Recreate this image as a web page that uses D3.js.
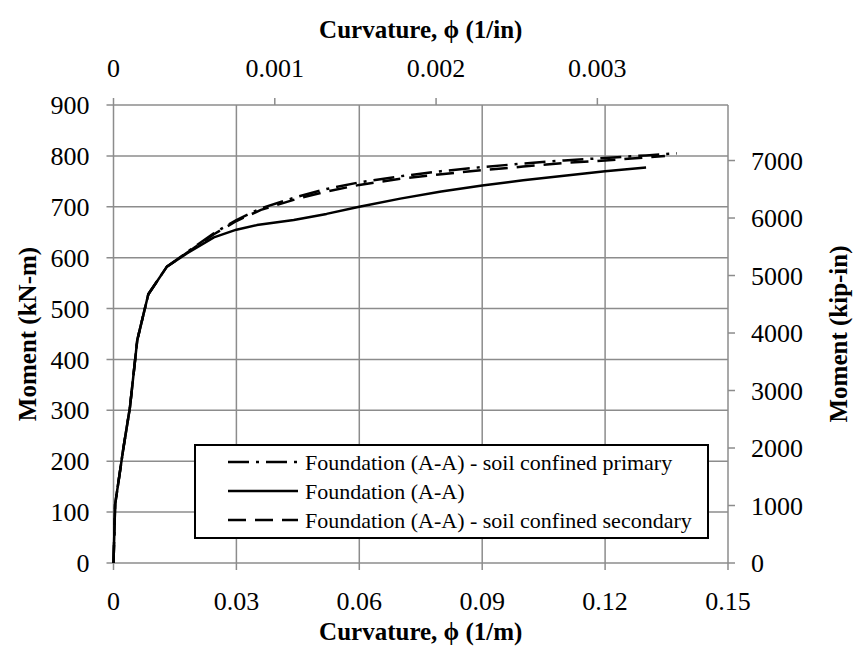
<!DOCTYPE html>
<html><head><meta charset="utf-8">
<script src="https://cdn.jsdelivr.net/npm/d3@7"></script>
<style>body{margin:0;background:#fff}</style>
</head><body><svg id="c" width="855" height="647"></svg>
<script>
// ---- data ----
const xTicksBottom = [0, 0.03, 0.06, 0.09, 0.12, 0.15];
const xTicksTop = [0, 0.001, 0.002, 0.003];
const yTicksLeft = [0, 100, 200, 300, 400, 500, 600, 700, 800, 900];
const yTicksRight = [0, 1000, 2000, 3000, 4000, 5000, 6000, 7000];

const solidX = [0, 0.0004, 0.0024, 0.0040, 0.0058, 0.0085, 0.0130, 0.0180, 0.0245, 0.0300, 0.0350, 0.0440, 0.0520, 0.0600, 0.0700, 0.0800, 0.0900, 0.1000, 0.1100, 0.1200, 0.1300];
const solidY = [0, 115, 225, 305, 438, 528, 582, 609, 640, 655, 664, 674, 686, 700, 716, 730, 742, 752, 761, 770, 777];

const primaryX = [0, 0.0004, 0.0024, 0.0040, 0.0058, 0.0085, 0.0130, 0.0180, 0.0245, 0.0300, 0.0360, 0.0450, 0.0520, 0.0600, 0.0700, 0.0800, 0.0900, 0.1000, 0.1100, 0.1200, 0.1300, 0.1375];
const primaryY = [0, 115, 225, 305, 438, 528, 582, 611, 648, 674, 697, 720, 735, 748, 760, 770, 778, 785, 791, 796, 801, 805];

const secondaryX = [0, 0.0004, 0.0024, 0.0040, 0.0058, 0.0085, 0.0130, 0.0180, 0.0245, 0.0300, 0.0360, 0.0450, 0.0520, 0.0600, 0.0700, 0.0800, 0.0900, 0.1000, 0.1100, 0.1200, 0.1300, 0.1346];
const secondaryY = [0, 115, 225, 305, 438, 528, 582, 610, 646, 672, 694, 716, 730, 743, 755, 764, 772, 779, 786, 791, 797, 800];

const seriesNames = ["Foundation (A-A) - soil confined primary", "Foundation (A-A)", "Foundation (A-A) - soil confined secondary"];

// ---- layout ----
const svg = d3.select("#c");
const L = 113.5, R = 728, T = 105, B = 563;
const x = d3.scaleLinear().domain([0, 0.15]).range([L, R]);
const xTop = d3.scaleLinear().domain([0, 0.15 / 39.3701]).range([L, R]);
const y = d3.scaleLinear().domain([0, 900]).range([B, T]);
const yRight = d3.scaleLinear().domain([0, 900 * 8.8507]).range([B, T]);

const serif = "'Liberation Serif','Times New Roman',serif";
const grid = "#8c8c8c";

// gridlines
const g = svg.append("g");
g.selectAll(".hg").data(yTicksLeft).enter().append("line")
  .attr("x1", L - 7).attr("x2", R).attr("y1", d => y(d)).attr("y2", d => y(d))
  .attr("stroke", grid).attr("stroke-width", 1.5);
g.selectAll(".vg").data(xTicksBottom).enter().append("line")
  .attr("x1", d => x(d)).attr("x2", d => x(d)).attr("y1", T).attr("y2", B + 7)
  .attr("stroke", grid).attr("stroke-width", 1.5);
// top axis ticks
g.selectAll(".tt").data(xTicksTop).enter().append("line")
  .attr("x1", d => xTop(d)).attr("x2", d => xTop(d)).attr("y1", T - 7).attr("y2", T)
  .attr("stroke", grid).attr("stroke-width", 1.5);
// right axis ticks
g.selectAll(".rt").data(yTicksRight).enter().append("line")
  .attr("x1", R).attr("x2", R + 7).attr("y1", d => yRight(d)).attr("y2", d => yRight(d))
  .attr("stroke", grid).attr("stroke-width", 1.5);

// tick labels
const fs = 26;
svg.selectAll(".lb").data(yTicksLeft).enter().append("text")
  .attr("x", L - 24).attr("y", d => y(d)).attr("dy", "0.35em").attr("text-anchor", "end")
  .attr("font-family", serif).attr("font-size", fs).text(d => d);
svg.selectAll(".rb").data(yTicksRight).enter().append("text")
  .attr("x", R + 23).attr("y", d => yRight(d)).attr("dy", "0.35em").attr("text-anchor", "start")
  .attr("font-family", serif).attr("font-size", fs).text(d => d);
svg.selectAll(".bb").data(xTicksBottom).enter().append("text")
  .attr("x", d => x(d)).attr("y", 601).attr("dy", "0.35em").attr("text-anchor", "middle")
  .attr("font-family", serif).attr("font-size", fs).text(d => d);
svg.selectAll(".tb").data(xTicksTop).enter().append("text")
  .attr("x", d => xTop(d)).attr("y", 68).attr("dy", "0.35em").attr("text-anchor", "middle")
  .attr("font-family", serif).attr("font-size", fs).text(d => d);

// titles
const tfs = 25;
svg.append("text").attr("x", (L + R) / 2).attr("y", 29).attr("dy", "0.35em").attr("text-anchor", "middle")
  .attr("font-family", serif).attr("font-weight", "bold").attr("font-size", tfs).text("Curvature, ϕ (1/in)");
svg.append("text").attr("x", (L + R) / 2).attr("y", 631).attr("dy", "0.35em").attr("text-anchor", "middle")
  .attr("font-family", serif).attr("font-weight", "bold").attr("font-size", tfs).text("Curvature, ϕ (1/m)");
svg.append("text").attr("transform", `translate(27,${(T + B) / 2}) rotate(-90)`).attr("dy", "0.35em")
  .attr("text-anchor", "middle").attr("font-family", serif).attr("font-weight", "bold").attr("font-size", tfs)
  .text("Moment (kN-m)");
svg.append("text").attr("transform", `translate(838,${(T + B) / 2}) rotate(-90)`).attr("dy", "0.35em")
  .attr("text-anchor", "middle").attr("font-family", serif).attr("font-weight", "bold").attr("font-size", tfs)
  .text("Moment (kip-in)");

// curves
const line = d3.line().x(d => x(d[0])).y(d => y(d[1]));
const dashes = ["21,7,3,7", null, "18,9"];
const data = [d3.zip(primaryX, primaryY), d3.zip(solidX, solidY), d3.zip(secondaryX, secondaryY)];
data.forEach((d, i) => {
  svg.append("path").datum(d).attr("d", line).attr("fill", "none").attr("stroke", "#000")
    .attr("stroke-width", 2.5).attr("stroke-dasharray", dashes[i]).attr("stroke-linejoin", "round");
});

// legend
const lg = svg.append("g");
lg.append("rect").attr("x", 195).attr("y", 445).attr("width", 513).attr("height", 93)
  .attr("fill", "#fff").attr("stroke", "#000").attr("stroke-width", 2);
const rows = [462, 491, 520];
seriesNames.forEach((n, i) => {
  lg.append("line").attr("x1", 228).attr("x2", 298).attr("y1", rows[i]).attr("y2", rows[i])
    .attr("stroke", "#000").attr("stroke-width", 2.5).attr("stroke-dasharray", dashes[i]);
  lg.append("text").attr("x", 305).attr("y", rows[i]).attr("dy", "0.35em")
    .attr("font-family", serif).attr("font-size", 22).text(n);
});
</script></body></html>
